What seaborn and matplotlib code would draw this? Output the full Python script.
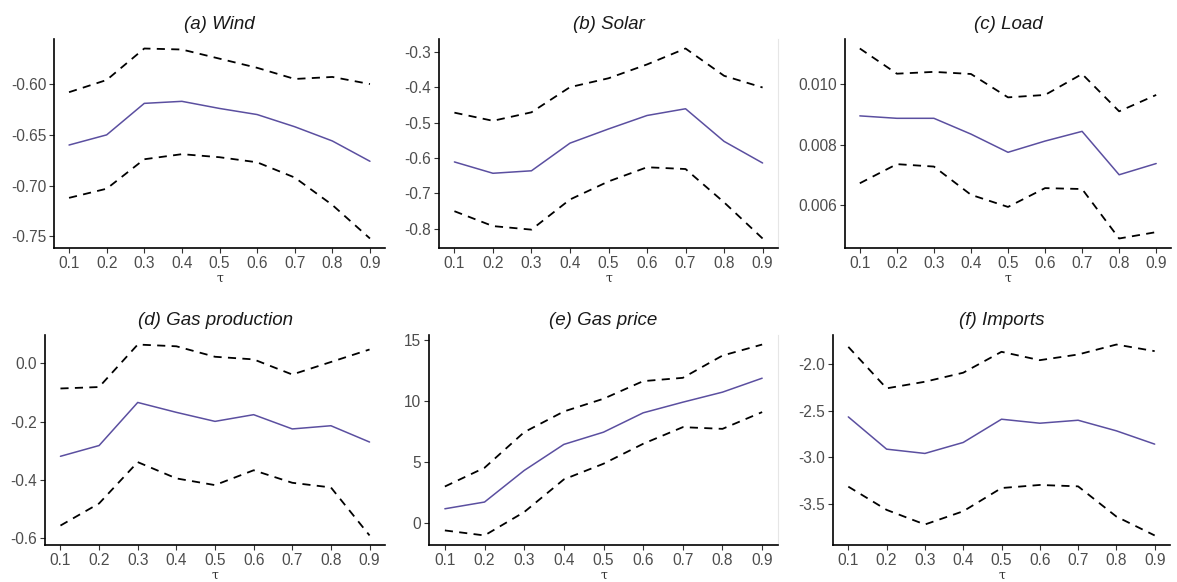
import numpy as np
import pandas as pd
import matplotlib
matplotlib.use("Agg")
import matplotlib.pyplot as plt
import seaborn as sns

tau = [0.1, 0.2, 0.3, 0.4, 0.5, 0.6, 0.7, 0.8, 0.9]
tau_labels = ["0.1", "0.2", "0.3", "0.4", "0.5", "0.6", "0.7", "0.8", "0.9"]

titles = ["(a) Wind", "(b) Solar", "(c) Load", "(d) Gas production", "(e) Gas price", "(f) Imports"]

wind_est = [-0.660, -0.650, -0.619, -0.617, -0.624, -0.630, -0.642, -0.656, -0.676]
wind_up = [-0.608, -0.596, -0.565, -0.566, -0.575, -0.584, -0.595, -0.593, -0.600]
wind_lo = [-0.712, -0.703, -0.674, -0.669, -0.672, -0.677, -0.692, -0.719, -0.752]

solar_est = [-0.611, -0.643, -0.636, -0.558, -0.518, -0.480, -0.461, -0.553, -0.614]
solar_up = [-0.472, -0.495, -0.471, -0.400, -0.375, -0.336, -0.291, -0.368, -0.401]
solar_lo = [-0.750, -0.792, -0.802, -0.717, -0.666, -0.626, -0.631, -0.725, -0.827]

load_est = [0.00895, 0.00887, 0.00887, 0.00835, 0.00775, 0.00812, 0.00844, 0.00701, 0.00738]
load_up = [0.01117, 0.01034, 0.01040, 0.01033, 0.00956, 0.00964, 0.01033, 0.00910, 0.00964]
load_lo = [0.00673, 0.00736, 0.00728, 0.00635, 0.00595, 0.00657, 0.00654, 0.00491, 0.00512]

gasprod_est = [-0.319, -0.282, -0.134, -0.168, -0.199, -0.176, -0.225, -0.214, -0.270]
gasprod_up = [-0.086, -0.081, 0.065, 0.059, 0.023, 0.014, -0.038, 0.005, 0.048]
gasprod_lo = [-0.557, -0.481, -0.339, -0.395, -0.418, -0.367, -0.410, -0.426, -0.591]

gasprice_est = [1.17, 1.72, 4.30, 6.43, 7.43, 9.01, 9.88, 10.70, 11.84]
gasprice_up = [2.99, 4.52, 7.43, 9.12, 10.16, 11.60, 11.87, 13.69, 14.59]
gasprice_lo = [-0.60, -1.01, 0.90, 3.57, 4.85, 6.48, 7.84, 7.70, 9.07]

imports_est = [-2.564, -2.911, -2.957, -2.839, -2.589, -2.632, -2.600, -2.714, -2.857]
imports_up = [-1.811, -2.257, -2.186, -2.089, -1.864, -1.954, -1.893, -1.786, -1.857]
imports_lo = [-3.314, -3.564, -3.721, -3.579, -3.329, -3.296, -3.311, -3.636, -3.839]

yticks = [
    [-0.75, -0.70, -0.65, -0.60],
    [-0.8, -0.7, -0.6, -0.5, -0.4, -0.3],
    [0.006, 0.008, 0.010],
    [-0.6, -0.4, -0.2, 0.0],
    [0, 5, 10, 15],
    [-3.5, -3.0, -2.5, -2.0],
]
ytick_labels = [
    ["-0.75", "-0.70", "-0.65", "-0.60"],
    ["-0.8", "-0.7", "-0.6", "-0.5", "-0.4", "-0.3"],
    ["0.006", "0.008", "0.010"],
    ["-0.6", "-0.4", "-0.2", "0.0"],
    ["0", "5", "10", "15"],
    ["-3.5", "-3.0", "-2.5", "-2.0"],
]

series = [
    (wind_est, wind_up, wind_lo),
    (solar_est, solar_up, solar_lo),
    (load_est, load_up, load_lo),
    (gasprod_est, gasprod_up, gasprod_lo),
    (gasprice_est, gasprice_up, gasprice_lo),
    (imports_est, imports_up, imports_lo),
]

sns.set_theme(style="white")
plt.rcParams["font.family"] = ["Liberation Sans", "DejaVu Sans"]

W, H = 1177, 582
fig = plt.figure(figsize=(W / 100, H / 100), dpi=100)

# pixel boxes: left, right, top, bottom
boxes = [
    (54, 385, 39, 248),
    (439, 778, 39, 248),
    (845, 1171, 39, 248),
    (45, 385, 335, 545),
    (429, 778, 335, 545),
    (833, 1170, 335, 545),
]

mid_color = "#5B4FA0"

for i, (box, (est, up, lo)) in enumerate(zip(boxes, series)):
    l, r, t, b = box
    ax = fig.add_axes([l / W, 1 - b / H, (r - l) / W, (b - t) / H])
    df = pd.DataFrame({"tau": tau, "est": est, "up": up, "lo": lo})
    sns.lineplot(data=df, x="tau", y="est", ax=ax, color=mid_color, linewidth=1.1)
    sns.lineplot(data=df, x="tau", y="up", ax=ax, color="black", linewidth=1.3,
                 linestyle=(0, (4.5, 3.5)))
    sns.lineplot(data=df, x="tau", y="lo", ax=ax, color="black", linewidth=1.3,
                 linestyle=(0, (4.5, 3.5)))
    ax.set_xlim(0.06, 0.94)
    allv = np.array(est + up + lo)
    rng = allv.max() - allv.min()
    ax.set_ylim(allv.min() - 0.05 * rng, allv.max() + 0.05 * rng)
    ax.set_xticks(tau)
    ax.set_xticklabels(tau_labels)
    ax.set_yticks(yticks[i])
    ax.set_yticklabels(ytick_labels[i])
    ax.tick_params(axis="both", which="both", length=3.5, width=0.8, color="#333333",
                   labelsize=11.2, labelcolor="#4D4D4D", pad=2, left=True, bottom=True)
    for s in ["top", "right"]:
        ax.spines[s].set_visible(False)
    if i in (1, 4):
        ax.spines["right"].set_visible(True)
        ax.spines["right"].set_color("#e6e6e6")
        ax.spines["right"].set_linewidth(0.8)
    for s in ["left", "bottom"]:
        ax.spines[s].set_color("black")
        ax.spines[s].set_linewidth(1.2)
    ax.set_ylabel("")
    ax.set_xlabel("τ", fontsize=9, family="DejaVu Serif", color="#333333", labelpad=1)
    ax.set_title(titles[i], fontsize=13.5, style="italic", color="#1a1a1a", pad=7)
    ax.grid(False)

fig.savefig("out.png", dpi=100)
